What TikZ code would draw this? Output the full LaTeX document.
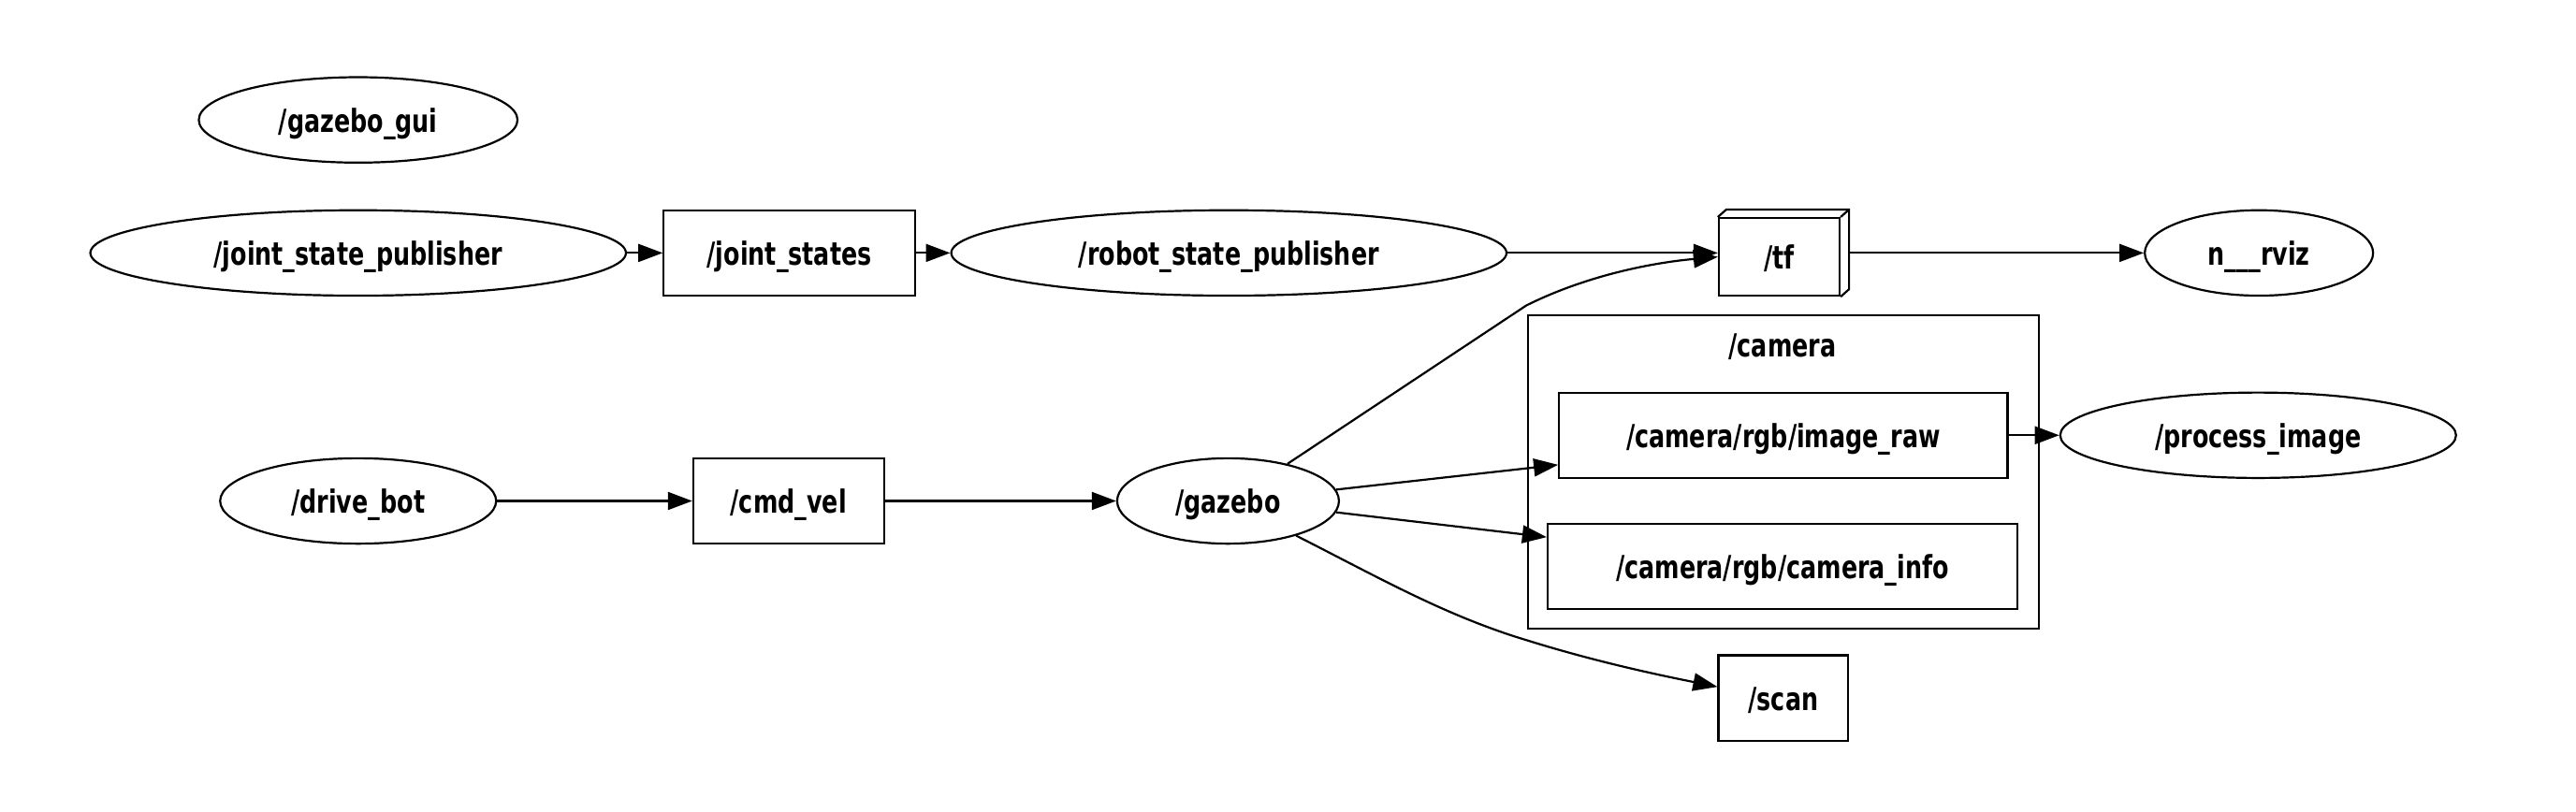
\documentclass[tikz,border=0pt]{standalone}
\usepackage{fontspec}
\newfontfamily\gvfont[FakeStretch=0.83]{DejaVu Sans Condensed Bold}
\usetikzlibrary{shapes.geometric,arrows.meta}
\begin{document}
\begin{tikzpicture}[x=1.7557pt,y=-1.7557pt,
  every node/.style={font=\gvfont\fontsize{34}{40}\selectfont, line width=2.2pt, inner sep=0pt,
    text height=26pt, text depth=0pt},
  topic/.style={draw, rectangle, minimum height=91.3pt},
  proc/.style={draw, ellipse, minimum height=91.3pt},
  edge/.style={line width=2.2pt, -{Triangle[length=26pt,width=19pt]}}]
\useasboundingbox[fill=white] (0,0) rectangle (1568,494);

\node[proc, minimum width=340.6pt] (gg) at (218,73) {/gazebo\_gui};
\node[proc, minimum width=572.4pt] (jsp) at (218,154) {/joint\_state\_publisher};
\node[topic, minimum width=268.6pt] (js) at (480.5,154) {/joint\_states};
\node[proc, minimum width=593.4pt] (rsp) at (748,154) {/robot\_state\_publisher};
\node[topic, minimum width=129pt, minimum height=83pt] (tf) at (1083,156.4) {/tf};
\draw[line width=2.2pt, line join=miter] (tf.north west) -- ([shift={(5.13,-4.56)}]tf.north west)
  -- ([shift={(5.13,-4.56)}]tf.north east) -- ([shift={(5.13,-4.56)}]tf.south east) -- (tf.south east);
\draw[line width=2.2pt] (tf.north east) -- ([shift={(5.13,-4.56)}]tf.north east);
\coordinate (tfr) at ([shift={(5.13,0)}]tf.east);
\node[proc, minimum width=244pt] (rviz) at (1375,154) {n\_\_\_rviz};

\node[draw, line width=2.2pt, minimum width=546pt, minimum height=335pt] (cam) at (1085.5,287.5) {};
\node (camlbl) at (1085,210) {/camera};
\node[topic, minimum width=479.3pt] (ir) at (1085.5,265) {/camera/rgb/image\_raw};
\node[topic, minimum width=502pt] (ci) at (1085,345) {/camera/rgb/camera\_info};
\node[proc, minimum width=423pt] (pi) at (1374.5,265) {/process\_image};

\node[proc, minimum width=295pt] (db) at (218,305) {/drive\_bot};
\node[topic, minimum width=203.7pt] (cv) at (480,305) {/cmd\_vel};
\node[proc, minimum width=237pt] (gz) at (747.5,305) {/gazebo};
\node[topic, minimum width=138.7pt] (scan) at (1085.5,425) {/scan};

\draw[edge] (jsp) -- (js);
\draw[edge] (js) -- (rsp);
\draw[edge] (rsp.east) -- (rsp.east -| tf.west);
\draw[edge] (tfr |- rviz.west) -- (rviz.west);
\draw[edge] (db) -- (cv);
\draw[edge] (cv) -- (gz);
\draw[edge] (ir) -- (pi);
\draw[edge] (gz.6) -- ([yshift=-31.6pt]ir.west);
\draw[edge] (gz.-6) -- ([yshift=31.6pt]ci.west);
\draw[edge] (gz.32) -- (929,186) .. controls (965,168) and (1005,160) .. (tf.west);
\draw[edge] (gz.-27) .. controls (840,352) and (880,375) .. (930,390) .. controls (975,404) and (1015,412) .. ([yshift=12pt]scan.west);
\end{tikzpicture}
\end{document}
